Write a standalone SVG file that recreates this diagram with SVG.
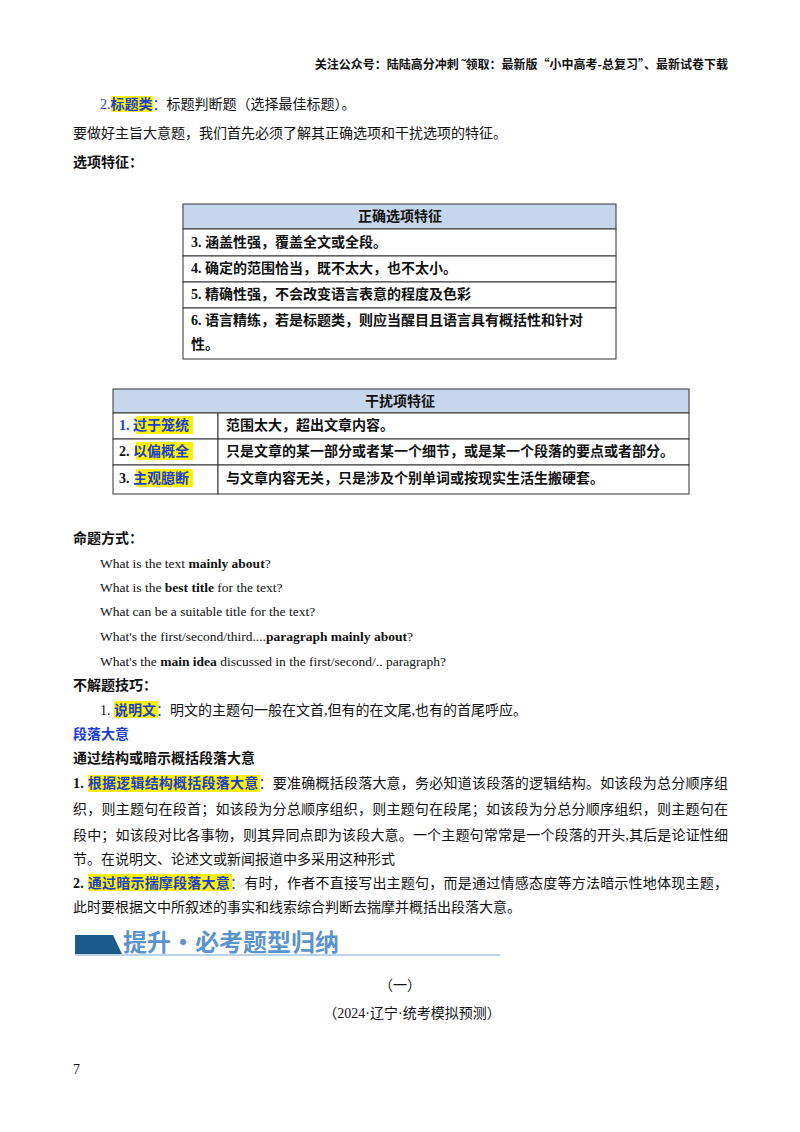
<svg xmlns="http://www.w3.org/2000/svg" width="800" height="1132" viewBox="0 0 800 1132">
<style>
text{font-family:"Liberation Serif","Noto Sans CJK SC",serif;font-size:14px;fill:#111}
.b{font-weight:bold}
.bl{fill:#1a3fd0}
.hl{fill:#fff200}
.cell{fill:#fff;stroke:#333;stroke-width:1}
.hd{fill:#c6d6ec;stroke:#333;stroke-width:1}
.en{font-size:13.5px}
</style>
<rect width="800" height="1132" fill="#fff"/>
<text x="728" y="69" text-anchor="end" style="font-size:12px;font-family:'Noto Sans CJK SC',sans-serif" class="b">关注公众号：陆陆高分冲刺 ˜领取：最新版“小中高考-总复习”、最新试卷下载</text>
<g id="intro">
<rect class="hl" x="111" y="96" width="42" height="16"/>
<text x="100" y="109"><tspan class="bl">2.</tspan><tspan class="bl b">标题类</tspan><tspan class="bl">：</tspan>标题判断题（选择最佳标题）。</text>
<text x="73" y="138">要做好主旨大意题，我们首先必须了解其正确选项和干扰选项的特征。</text>
<text x="73" y="167" class="b">选项特征：</text>
</g>
<g id="table1">
<rect class="hd" x="183" y="204" width="433" height="25"/>
<text x="400" y="221" text-anchor="middle" class="b">正确选项特征</text>
<rect class="cell" x="183" y="229" width="433" height="27"/>
<rect class="cell" x="183" y="256" width="433" height="26"/>
<rect class="cell" x="183" y="282" width="433" height="26"/>
<rect class="cell" x="183" y="308" width="433" height="51"/>
<text x="191" y="247" class="b">3. 涵盖性强，覆盖全文或全段。</text>
<text x="191" y="273" class="b">4. 确定的范围恰当，既不太大，也不太小。</text>
<text x="191" y="299" class="b">5. 精确性强，不会改变语言表意的程度及色彩</text>
<text x="191" y="325" class="b">6. 语言精练，若是标题类，则应当醒目且语言具有概括性和针对</text>
<text x="191" y="349" class="b">性。</text>
</g>
<g id="table2">
<rect class="hd" x="113" y="389" width="576" height="24"/>
<text x="400" y="406" text-anchor="middle" class="b">干扰项特征</text>
<rect class="cell" x="113" y="413" width="105" height="26"/>
<rect class="cell" x="218" y="413" width="471" height="26"/>
<rect class="cell" x="113" y="439" width="105" height="26"/>
<rect class="cell" x="218" y="439" width="471" height="26"/>
<rect class="cell" x="113" y="465" width="105" height="29"/>
<rect class="cell" x="218" y="465" width="471" height="29"/>
<rect class="hl" x="136" y="416" width="57" height="18"/>
<rect class="hl" x="136" y="442" width="57" height="18"/>
<rect class="hl" x="136" y="469" width="57" height="18"/>
<text x="119" y="430" class="b"><tspan class="bl">1. </tspan><tspan class="bl">过于笼统</tspan></text>
<text x="119" y="456" class="b">2. <tspan class="bl">以偏概全</tspan></text>
<text x="119" y="483" class="b">3. <tspan class="bl">主观臆断</tspan></text>
<text x="226" y="430" class="b">范围太大，超出文章内容。</text>
<text x="226" y="456" class="b">只是文章的某一部分或者某一个细节，或是某一个段落的要点或者部分。</text>
<text x="226" y="483" class="b">与文章内容无关，只是涉及个别单词或按现实生活生搬硬套。</text>
</g>
<g id="methods">
<text x="73" y="543" class="b">命题方式：</text>
<text x="100" y="568" class="en">What is the text  <tspan class="b">mainly about</tspan>?</text>
<text x="100" y="592" class="en">What is the  <tspan class="b">best title</tspan>  for the text?</text>
<text x="100" y="616" class="en">What can be a suitable title for the text?</text>
<text x="100" y="641" class="en">What's the first/second/third....<tspan class="b">paragraph mainly about</tspan>?</text>
<text x="100" y="666" class="en">What's the  <tspan class="b">main idea</tspan>  discussed in the first/second/.. paragraph?</text>
<text x="73" y="690" class="b">不解题技巧：</text>
<rect class="hl" x="114" y="701" width="44" height="17"/>
<text x="100" y="715">1. <tspan class="bl b">说明文</tspan><tspan class="bl">：</tspan>明文的主题句一般在文首,但有的在文尾,也有的首尾呼应。</text>
<text x="73" y="739" class="b bl">段落大意</text>
<text x="73" y="763" class="b">通过结构或暗示概括段落大意</text>
</g>
<g id="paragraphs">
<rect class="hl" x="88" y="775" width="172" height="17"/>
<text x="73" y="788" textLength="655" lengthAdjust="spacing"><tspan class="b">1. </tspan><tspan class="b bl">根据逻辑结构概括段落大意</tspan><tspan class="bl">：</tspan>要准确概括段落大意，务必知道该段落的逻辑结构。如该段为总分顺序组</text>
<text x="73" y="814" textLength="655" lengthAdjust="spacing">织，则主题句在段首；如该段为分总顺序组织，则主题句在段尾；如该段为分总分顺序组织，则主题句在</text>
<text x="73" y="840" textLength="655" lengthAdjust="spacing">段中；如该段对比各事物，则其异同点即为该段大意。一个主题句常常是一个段落的开头,其后是论证性细</text>
<text x="73" y="864">节。在说明文、论述文或新闻报道中多采用这种形式</text>
<rect class="hl" x="88" y="874" width="144" height="17"/>
<text x="73" y="888" textLength="655" lengthAdjust="spacing"><tspan class="b">2. </tspan><tspan class="b bl">通过暗示揣摩段落大意</tspan><tspan class="bl">：</tspan>有时，作者不直接写出主题句，而是通过情感态度等方法暗示性地体现主题，</text>
<text x="73" y="912">此时要根据文中所叙述的事实和线索综合判断去揣摩并概括出段落大意。</text>
</g>
<g id="banner">
<polygon points="75,935 113,935 122,954 75,954" fill="#1d5a8c"/>
<line x1="75" y1="955" x2="500" y2="955" stroke="#7aa6d3" stroke-width="1"/>
<text x="123" y="951" style="font-size:24px;font-family:'Noto Sans CJK SC',sans-serif;fill:#5b93cc" class="b">提升·必考题型归纳</text>
</g>
<text x="400" y="990" text-anchor="middle">（一）</text>
<text x="412" y="1018" text-anchor="middle">（2024·辽宁·统考模拟预测）</text>
<text x="73" y="1074">7</text>
</svg>
